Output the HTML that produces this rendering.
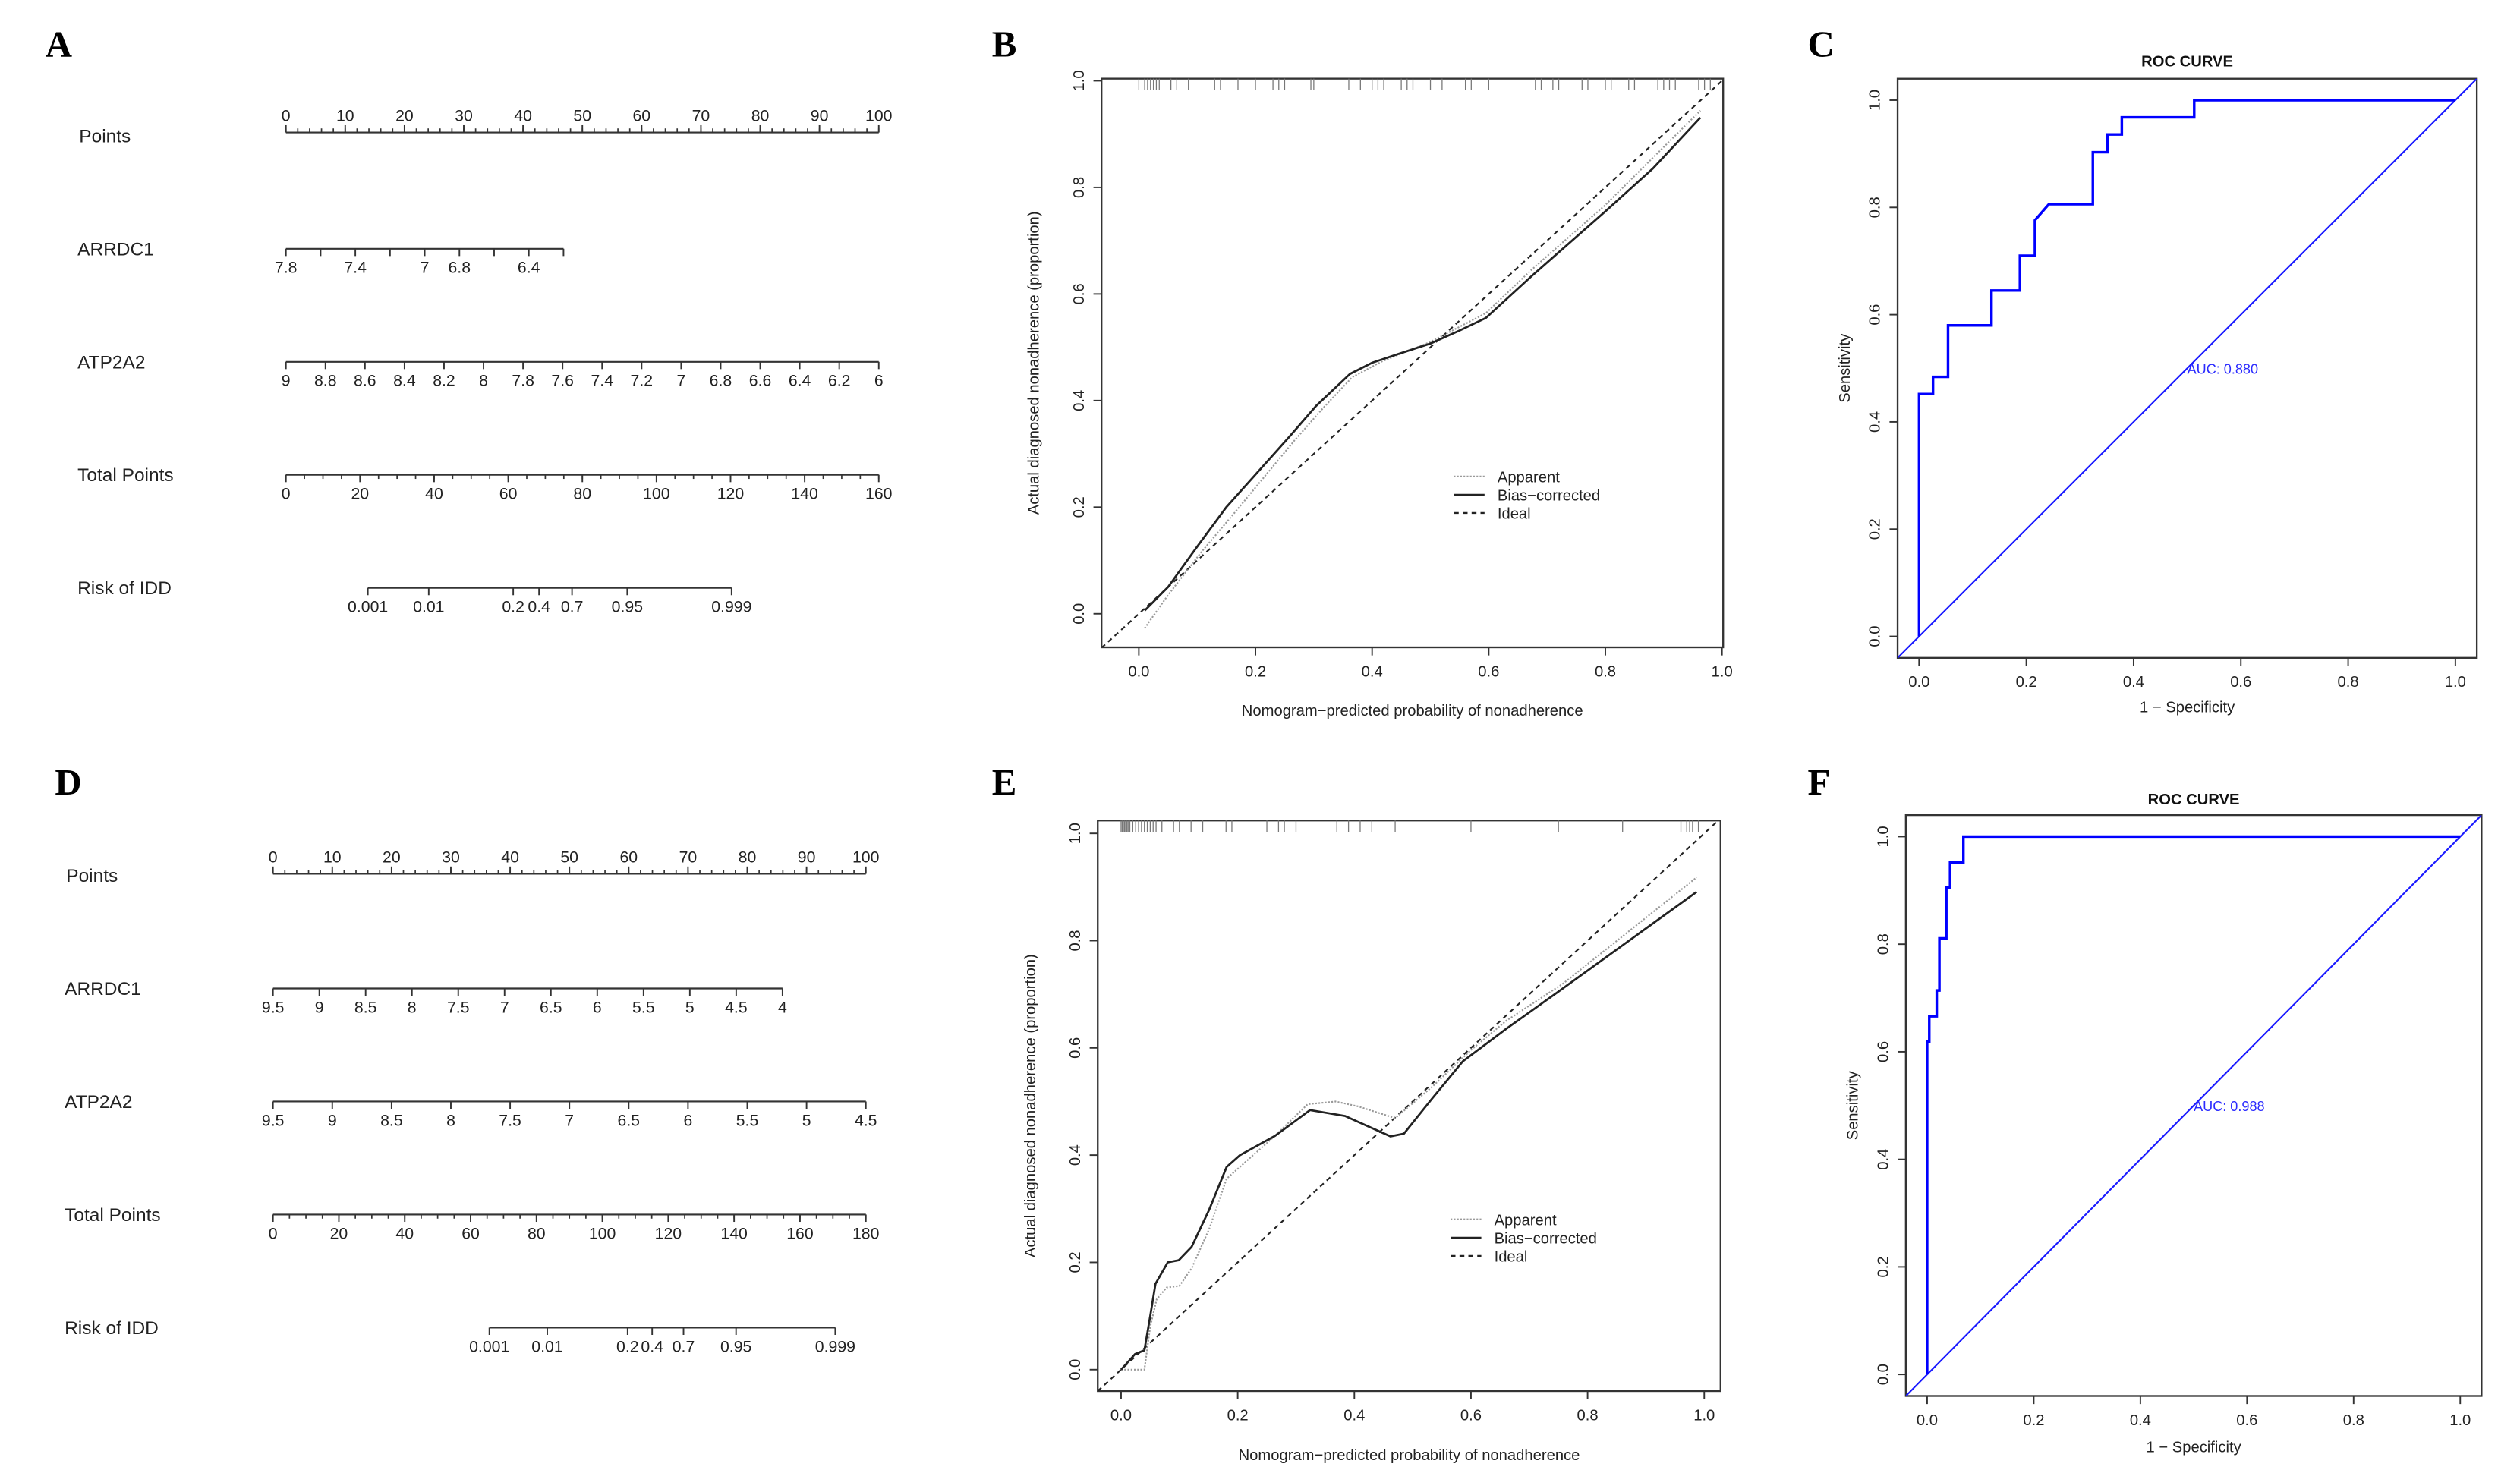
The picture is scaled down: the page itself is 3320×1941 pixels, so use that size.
<!DOCTYPE html>
<html><head><meta charset="utf-8"><style>
html,body{margin:0;padding:0;background:#fff;}
svg{display:block;font-family:"Liberation Sans",Arial,sans-serif;}
</style></head><body>
<svg id="fig" width="3320" height="1941" viewBox="0 0 1560 912" xmlns="http://www.w3.org/2000/svg">
<rect width="1560" height="912" fill="#fff"/>
</svg>
<script>
// ---- Nomogram data (A) ----
const aPointsTicks=[0,10,20,30,40,50,60,70,80,90,100];
const aArrdcTicks=[7.8,7.6,7.4,7.2,7,6.8,6.6,6.4,6.2];
const aArrdcLabels=[7.8,7.4,7,6.8,6.4];
const aAtpTicks=[9,8.8,8.6,8.4,8.2,8,7.8,7.6,7.4,7.2,7,6.8,6.6,6.4,6.2,6];
const aTotalTicks=[0,20,40,60,80,100,120,140,160];
const riskLabels=[0.001,0.01,0.2,0.4,0.7,0.95,0.999];
const riskText=["0.001","0.01","0.2","0.4","0.7","0.95","0.999"];
// ---- Nomogram data (D) ----
const dPointsTicks=[0,10,20,30,40,50,60,70,80,90,100];
const dArrdcTicks=[9.5,9,8.5,8,7.5,7,6.5,6,5.5,5,4.5,4];
const dAtpTicks=[9.5,9,8.5,8,7.5,7,6.5,6,5.5,5,4.5];
const dTotalTicks=[0,20,40,60,80,100,120,140,160,180];
// ---- Calibration B ----
const bBiasX=[0.01,0.05,0.1,0.15,0.204,0.258,0.304,0.362,0.4,0.441,0.5,0.549,0.595,0.674,0.799,0.882,0.963];
const bBiasY=[0.006,0.05,0.126,0.2,0.266,0.332,0.39,0.45,0.471,0.486,0.507,0.531,0.555,0.634,0.754,0.836,0.931];
const bAppX=[0.01,0.05,0.108,0.166,0.216,0.266,0.316,0.366,0.416,0.5,0.595,0.674,0.799,0.963];
const bAppY=[-0.027,0.035,0.117,0.192,0.258,0.324,0.386,0.444,0.473,0.51,0.564,0.646,0.766,0.944];
const bRug=[0,0.01,0.015,0.02,0.025,0.03,0.035,0.055,0.065,0.085,0.13,0.14,0.17,0.2,0.23,0.24,0.25,0.295,0.3,0.36,0.38,0.4,0.41,0.42,0.45,0.46,0.47,0.5,0.52,0.56,0.57,0.6,0.68,0.69,0.71,0.72,0.76,0.77,0.8,0.81,0.84,0.85,0.89,0.9,0.91,0.92,0.96,0.97,0.98];
// ---- Calibration E ----
const eBiasX=[0,0.024,0.04,0.05,0.059,0.08,0.099,0.121,0.151,0.181,0.204,0.264,0.324,0.384,0.462,0.485,0.533,0.586,0.661,0.75,0.987];
const eBiasY=[0,0.029,0.036,0.1,0.16,0.2,0.204,0.229,0.298,0.378,0.4,0.436,0.484,0.473,0.435,0.44,0.505,0.575,0.636,0.705,0.891];
const eAppX=[0,0.04,0.05,0.061,0.078,0.1,0.121,0.151,0.181,0.211,0.264,0.32,0.368,0.406,0.47,0.533,0.6,0.661,0.758,0.987];
const eAppY=[0,0,0.08,0.131,0.153,0.156,0.189,0.262,0.356,0.385,0.436,0.495,0.5,0.491,0.469,0.527,0.596,0.651,0.72,0.918];
const eRug=[0,0.002,0.004,0.006,0.008,0.01,0.012,0.015,0.02,0.025,0.03,0.035,0.04,0.045,0.05,0.055,0.06,0.07,0.09,0.1,0.12,0.14,0.18,0.19,0.25,0.27,0.28,0.3,0.37,0.39,0.41,0.43,0.47,0.6,0.75,0.86,0.96,0.97,0.975,0.98,0.99];
// ---- ROC C ----
const cFpr=[0,0,0.026,0.026,0.054,0.054,0.135,0.135,0.188,0.188,0.216,0.216,0.242,0.324,0.324,0.351,0.351,0.378,0.378,0.513,0.513,1];
const cTpr=[0,0.452,0.452,0.484,0.484,0.58,0.58,0.645,0.645,0.71,0.71,0.776,0.806,0.806,0.903,0.903,0.936,0.936,0.968,0.968,1,1];
// ---- ROC F ----
const fFpr=[0,0,0.004,0.004,0.018,0.018,0.023,0.023,0.036,0.036,0.043,0.043,0.068,0.068,1];
const fTpr=[0,0.619,0.619,0.666,0.666,0.714,0.714,0.811,0.811,0.905,0.905,0.952,0.952,1,1];
const calTicks=[0,0.2,0.4,0.6,0.8,1.0];
const calTickText=["0.0","0.2","0.4","0.6","0.8","1.0"];

const NS="http://www.w3.org/2000/svg";
const svg=document.getElementById('fig');
function mk(tag,attrs,parent){const e=document.createElementNS(NS,tag);for(const k in attrs)e.setAttribute(k,attrs[k]);(parent||svg).appendChild(e);return e;}
function txt(x,y,s,size,parent,extra){const t=mk('text',Object.assign({x:x,y:y,'font-size':size,fill:'#222'},extra||{}),parent);t.textContent=s;return t;}

[['A',28,35],['B',614,35],['C',1119,35],['D',34,492],['E',614,492],['F',1119,492]].forEach(p=>{
  const t=txt(p[1],p[2],p[0],23,svg,{'font-family':'Liberation Serif, serif','font-weight':'bold',fill:'#000'});
  
  
});

function nomoAxis(g,name,x0,x1,v0,v1,y,ticks,labels,labelText,up,minorStep){
  const gg=mk('g',{},g);
  
  
  const sx=v=>x0+(v-v0)/(v1-v0)*(x1-x0);
  const xs=ticks.map(sx);
  mk('line',{x1:Math.min(...xs),x2:Math.max(...xs),y1:y,y2:y,stroke:'#333','stroke-width':1},gg);
  const d=up?-1:1;
  if(minorStep){
    const lo=Math.min(v0,v1),hi=Math.max(v0,v1);
    for(let v=lo;v<=hi+1e-9;v+=minorStep){mk('line',{x1:sx(v),x2:sx(v),y1:y,y2:y+d*2.5,stroke:'#333','stroke-width':0.8},gg);}
  }
  ticks.forEach(v=>{mk('line',{x1:sx(v),x2:sx(v),y1:y,y2:y+d*4.5,stroke:'#333','stroke-width':0.9},gg);});
  labels.forEach((v,i)=>{
    const t=txt(sx(v),up?y-7:y+15,labelText?labelText[i]:String(v),10,gg,{'text-anchor':'middle'});
    
    
  });
}
function riskAxis(g,name,xc,scale,y){
  const gg=mk('g',{},g);
  
  
  const sx=p=>xc+scale*Math.log(p/(1-p));
  mk('line',{x1:sx(riskLabels[0]),x2:sx(riskLabels[riskLabels.length-1]),y1:y,y2:y,stroke:'#333','stroke-width':1},gg);
  riskLabels.forEach((p,i)=>{
    mk('line',{x1:sx(p),x2:sx(p),y1:y,y2:y+4.5,stroke:'#333','stroke-width':0.9},gg);
    const t=txt(sx(p),y+15,riskText[i],10,gg,{'text-anchor':'middle'});
    
    
  });
}
function rowLabel(g,x,y,s,name){const t=txt(x,y,s,11.5,g);}

const gA=mk('g',{});


rowLabel(gA,49,88,'Points','points-label');
nomoAxis(gA,'a-points',177,544,0,100,82,aPointsTicks,aPointsTicks,null,true,2);
rowLabel(gA,48,158,'ARRDC1','arrdc1-label');
nomoAxis(gA,'a-arrdc1',177,544,7.8,4.383,154,aArrdcTicks,aArrdcLabels,null,false,0);
rowLabel(gA,48,228,'ATP2A2','atp2a2-label');
nomoAxis(gA,'a-atp2a2',177,544,9,6,224,aAtpTicks,aAtpTicks,null,false,0);
rowLabel(gA,48,298,'Total Points','total-points-label');
nomoAxis(gA,'a-total-points',177,544,0,160,294,aTotalTicks,aTotalTicks,null,false,5);
rowLabel(gA,48,368,'Risk of IDD','risk-label');
riskAxis(gA,'a-risk',340.3,16.3,364);

const gD=mk('g',{});


rowLabel(gD,41,546,'Points','points-label');
nomoAxis(gD,'d-points',169,536,0,100,541,dPointsTicks,dPointsTicks,null,true,2);
rowLabel(gD,40,616,'ARRDC1','arrdc1-label');
nomoAxis(gD,'d-arrdc1',169,536,9.5,3.1,612,dArrdcTicks,dArrdcTicks,null,false,0);
rowLabel(gD,40,686,'ATP2A2','atp2a2-label');
nomoAxis(gD,'d-atp2a2',169,536,9.5,4.5,682,dAtpTicks,dAtpTicks,null,false,0);
rowLabel(gD,40,756,'Total Points','total-points-label');
nomoAxis(gD,'d-total-points',169,536,0,180,752,dTotalTicks,dTotalTicks,null,false,5);
rowLabel(gD,40,826,'Risk of IDD','risk-label');
riskAxis(gD,'d-risk',410,15.5,822);

function frame(name,px0,px1,py0,py1,xlo,xhi,ylo,yhi){
  const g=mk('g',{});
  
  
  const sx=v=>px0+v*(px1-px0), sy=v=>py0+v*(py1-py0);
  const bx0=sx(xlo),bx1=sx(xhi),by0=sy(ylo),by1=sy(yhi);
  const box=mk('rect',{x:bx0,y:by1,width:bx1-bx0,height:by0-by1,fill:'none',stroke:'#333','stroke-width':1.1},g);
  
  
  const cid=name+'-clip';
  const cp=mk('clipPath',{id:cid},g);mk('rect',{x:bx0,y:by1,width:bx1-bx0,height:by0-by1},cp);
  const xa=mk('g',{},g);
  
  
  const ya=mk('g',{},g);
  
  
  calTicks.forEach((v,i)=>{
    mk('line',{x1:sx(v),x2:sx(v),y1:by0,y2:by0+5,stroke:'#333','stroke-width':0.9},xa);
    const t=txt(sx(v),by0+18,calTickText[i],9.5,xa,{'text-anchor':'middle'});
    
    
    mk('line',{x1:bx0,x2:bx0-5,y1:sy(v),y2:sy(v),stroke:'#333','stroke-width':0.9},ya);
    const ty=txt(bx0-11,sy(v),calTickText[i],9.5,ya,{'text-anchor':'middle',transform:`rotate(-90 ${bx0-11} ${sy(v)})`});
    
    
  });
  return {g,sx,sy,bx0,bx1,by0,by1,clip:`url(#${cid})`};
}
function poly(f,xs,ys,attrs,name){
  const pts=xs.map((x,i)=>f.sx(x).toFixed(2)+','+f.sy(ys[i]).toFixed(2)).join(' ');
  const p=mk('polyline',Object.assign({points:pts,fill:'none','clip-path':f.clip},attrs),f.g);
  
  
  return p;
}
function titles(f,xt,yt,xTitleY,yTitleX){
  const cx=(f.bx0+f.bx1)/2, cy=(f.by0+f.by1)/2;
  const a=txt(cx,xTitleY,xt,9.5,f.g,{'text-anchor':'middle'});
  
  
  const b=txt(yTitleX,cy,yt,9.5,f.g,{'text-anchor':'middle',transform:`rotate(-90 ${yTitleX} ${cy})`});
  
  
}
function calPanel(name,px0,px1,py0,py1,xlo,xhi,ylo,yhi,bx,by,ax,ay,rug,legX,legY,xTY,yTX){
  const f=frame(name,px0,px1,py0,py1,xlo,xhi,ylo,yhi);
  const rg=mk('g',{},f.g);
  
  
  rug.forEach(v=>mk('line',{x1:f.sx(v),x2:f.sx(v),y1:f.by1,y2:f.by1+7,stroke:'#777','stroke-width':0.6},rg));
  const ideal=mk('line',{x1:f.sx(xlo),y1:f.sy(xlo),x2:f.sx(1.05),y2:f.sy(1.05),stroke:'#222','stroke-width':1,'stroke-dasharray':'3,2.5','clip-path':f.clip},f.g);
  
  
  poly(f,ax,ay,{stroke:'#999','stroke-width':1,'stroke-dasharray':'1,1'},'apparent-line');
  poly(f,bx,by,{stroke:'#222','stroke-width':1.3},'bias-corrected-line');
  const lg=mk('g',{},f.g);
  
  
  [['Apparent',{stroke:'#999','stroke-dasharray':'1,1'}],['Bias\u2212corrected',{stroke:'#222'}],['Ideal',{stroke:'#222','stroke-dasharray':'3,2.5'}]].forEach((e,i)=>{
    const y=legY+i*11.3;
    mk('line',Object.assign({x1:legX,x2:legX+19,y1:y,y2:y,'stroke-width':1.1},e[1]),lg);
    const t=txt(legX+27,y+3.5,e[0],9.5,lg);
    
    
  });
  titles(f,'Nomogram\u2212predicted probability of nonadherence','Actual diagnosed nonadherence (proportion)',xTY,yTX);
}
calPanel('calibration-b',705,1066,380,50,-0.064,1.002,-0.063,1.004,bBiasX,bBiasY,bAppX,bAppY,bRug,900,295,443,643);
calPanel('calibration-e',694,1055,848,516,-0.04,1.028,-0.04,1.024,eBiasX,eBiasY,eAppX,eAppY,eRug,898,755,904,641);

function rocPanel(name,px0,px1,py0,py1,fpr,tpr,auc,title,titleY,xTY,yTX){
  const f=frame(name,px0,px1,py0,py1,-0.04,1.04,-0.04,1.04);
  const d=mk('line',{x1:f.sx(-0.04),y1:f.sy(-0.04),x2:f.sx(1.04),y2:f.sy(1.04),stroke:'#1a1aff','stroke-width':1,'clip-path':f.clip},f.g);
  
  
  poly(f,fpr,tpr,{stroke:'#0000ff','stroke-width':1.6,'stroke-linejoin':'miter'},'roc-curve');
  const a=txt(f.sx(0.5),f.sy(0.5)+3.5,'AUC: '+auc,8.5,f.g,{fill:'#2b2bff'});
  
  
  const t=txt((f.bx0+f.bx1)/2,titleY,title,9.5,f.g,{'text-anchor':'middle','font-weight':'bold',fill:'#111'});
  
  
  titles(f,'1 \u2212 Specificity','Sensitivity',xTY,yTX);
}
rocPanel('roc-c',1188,1520,394,62,cFpr,cTpr,'0.880','ROC CURVE',41,441,1145);
rocPanel('roc-f',1193,1523,851,518,fFpr,fTpr,'0.988','ROC CURVE',498,899,1150);
</script>
</body></html>
